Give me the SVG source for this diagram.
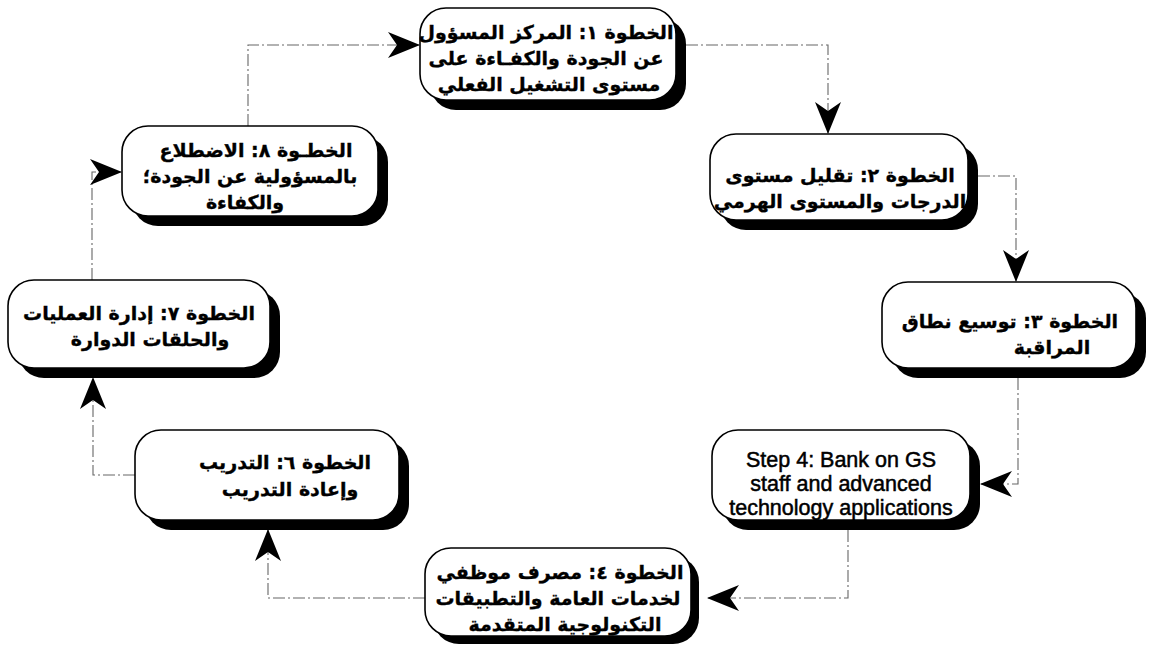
<svg xmlns="http://www.w3.org/2000/svg" width="1149" height="651" viewBox="0 0 1149 651">
<defs>
<style>
.bg{fill:#ffffff}
.sh{fill:#000000}
.box{fill:#ffffff;stroke:#000000;stroke-width:1.6}
.ar{font-family:"DejaVu Sans","Noto Sans",sans-serif;font-weight:bold;font-size:19px;fill:#000000;stroke:#000000;stroke-width:0.35;text-anchor:middle;direction:rtl;unicode-bidi:embed}
.en{font-family:"Liberation Sans",Arial,sans-serif;font-size:21.5px;fill:#000000;stroke:#000000;stroke-width:0.5;text-anchor:middle}
.cn{fill:none;stroke:#666666;stroke-width:1.1;stroke-dasharray:12 3 2 3}
</style>
<marker id="ah" markerUnits="userSpaceOnUse" markerWidth="32" markerHeight="26" viewBox="0 0 32 26" refX="31" refY="13" orient="auto">
<path d="M0,0 L32,13 L0,26 L9,13 Z" fill="#000000"/>
</marker>
</defs>
<rect class="bg" x="0" y="0" width="1149" height="651"/>

<g id="connectors">
<path class="cn" d="M248,126 V45 H419" marker-end="url(#ah)"/>
<path class="cn" d="M686,45 H828 V133" marker-end="url(#ah)"/>
<path class="cn" d="M978,176 H1016 V281" marker-end="url(#ah)"/>
<path class="cn" d="M1018,378 V484 H981" marker-end="url(#ah)"/>
<path class="cn" d="M848,530 V598 H708" marker-end="url(#ah)"/>
<path class="cn" d="M425,598 H268 V530" marker-end="url(#ah)"/>
<path class="cn" d="M135,475 H93 V378" marker-end="url(#ah)"/>
<path class="cn" d="M92,280 V172 H121" marker-end="url(#ah)"/>
</g>

<g id="node1">
<rect class="sh" x="430" y="18" width="256" height="92" rx="26"/>
<rect class="box" x="420" y="8" width="256" height="92" rx="26"/>
<text class="ar" x="546" y="39">الخطوة ١: المركز المسؤول</text>
<text class="ar" x="546" y="65">عن الجودة والكفـاءة على</text>
<text class="ar" x="549" y="91">مستوى التشغيل الفعلي</text>
</g>

<g id="node2">
<rect class="sh" x="720" y="144" width="258" height="86" rx="26"/>
<rect class="box" x="710" y="134" width="258" height="86" rx="26"/>
<text class="ar" x="840" y="182">الخطوة ٢: تقليل مستوى</text>
<text class="ar" x="840" y="208">الدرجات والمستوى الهرمي</text>
</g>

<g id="node3">
<rect class="sh" x="892" y="292" width="254" height="86" rx="26"/>
<rect class="box" x="882" y="282" width="254" height="86" rx="26"/>
<text class="ar" x="1010" y="328">الخطوة ٣: توسيع نطاق</text>
<text class="ar" x="1052" y="354">المراقبة</text>
</g>

<g id="node4">
<rect class="sh" x="722" y="440" width="258" height="90" rx="26"/>
<rect class="box" x="712" y="430" width="258" height="90" rx="26"/>
<text class="en" x="841" y="467">Step 4: Bank on GS</text>
<text class="en" x="841" y="491">staff and advanced</text>
<text class="en" x="841" y="515">technology applications</text>
</g>

<g id="node5">
<rect class="sh" x="433" y="556" width="266" height="88" rx="26"/>
<rect class="box" x="425" y="548" width="266" height="88" rx="26"/>
<text class="ar" x="560" y="579">الخطوة ٤: مصرف موظفي</text>
<text class="ar" x="558" y="605">لخدمات العامة والتطبيقات</text>
<text class="ar" x="565" y="631">التكنولوجية المتقدمة</text>
</g>

<g id="node6">
<rect class="sh" x="145" y="440" width="264" height="90" rx="26"/>
<rect class="box" x="135" y="430" width="264" height="90" rx="26"/>
<text class="ar" x="285" y="469">الخطوة ٦: التدريب</text>
<text class="ar" x="290" y="496">وإعادة التدريب</text>
</g>

<g id="node7">
<rect class="sh" x="18" y="290" width="262" height="88" rx="26"/>
<rect class="box" x="8" y="280" width="262" height="88" rx="26"/>
<text class="ar" x="139" y="320">الخطوة ٧: إدارة العمليات</text>
<text class="ar" x="150" y="346">والحلقات الدوارة</text>
</g>

<g id="node8">
<rect class="sh" x="132" y="136" width="256" height="90" rx="26"/>
<rect class="box" x="122" y="126" width="256" height="90" rx="26"/>
<text class="ar" x="256" y="157">الخطـوة ٨: الاضطلاع</text>
<text class="ar" x="250" y="183">بالمسؤولية عن الجودة؛</text>
<text class="ar" x="245" y="209">والكفاءة</text>
</g>
</svg>
